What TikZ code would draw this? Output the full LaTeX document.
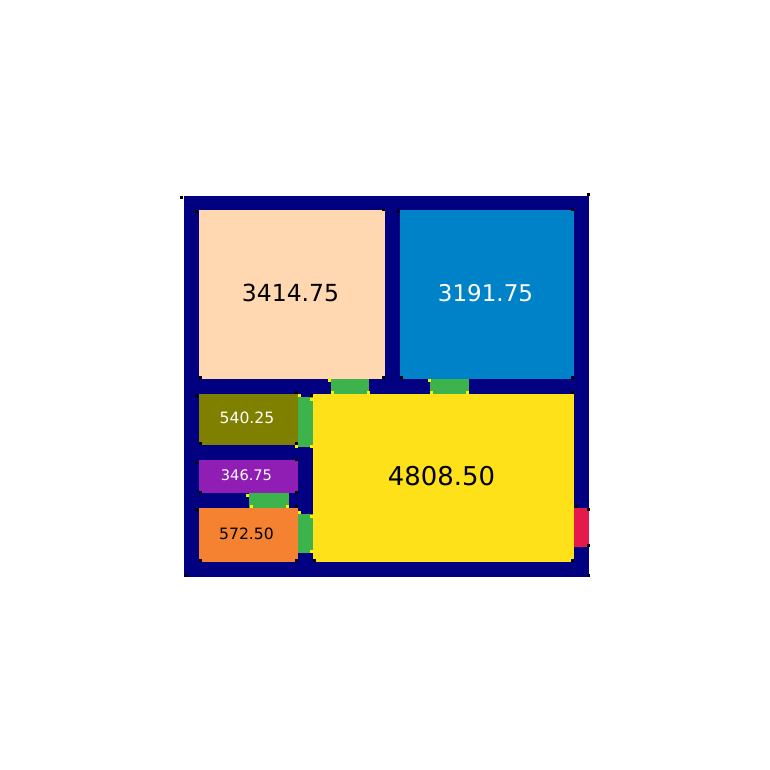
\documentclass[tikz,border=0pt]{standalone}
\usepackage{fontspec}
\setmainfont{DejaVu Sans}
\definecolor{wallnavy}{HTML}{000080}
\definecolor{roompeach}{HTML}{FFD8B1}
\definecolor{roomblue}{HTML}{0082C8}
\definecolor{roomolive}{HTML}{808000}
\definecolor{roompurple}{HTML}{911EB4}
\definecolor{roomorange}{HTML}{F58231}
\definecolor{roomyellow}{HTML}{FFE119}
\definecolor{doorgreen}{HTML}{3CB44B}
\definecolor{doorred}{HTML}{E6194B}
\begin{document}
\begin{tikzpicture}[x=1pt,y=-1pt,
    % Define the style for the labels
    label big/.style={inner sep=0pt, font=\fontsize{23.5}{26}\selectfont},
    label small/.style={inner sep=0pt, font=\fontsize{15.6}{18}\selectfont}
]
\useasboundingbox (0,0) rectangle (769,770);

% Outer wall
\fill[wallnavy] (183.6,195.6) rectangle (589.4,577.2);

% Rooms
\fill[roompeach] (198.6,210) rectangle (385,378.7);
\fill[roomblue] (400.2,210) rectangle (574.4,378.7);
\fill[roomolive] (198.6,394) rectangle (298,444.7);
\fill[roompurple] (198.6,460) rectangle (298,493.3);
\fill[roomorange] (198.6,508) rectangle (298,561.7);
\fill[roomyellow] (312.7,394) rectangle (574.4,561.7);

% Doors between the rooms
\foreach \xa/\ya/\xb/\yb in {331.3/378.7/369.3/394, 430.3/378.7/469/394,
    298/397.3/312.7/447.3, 249.3/493.3/288.7/508, 298/514.3/312.7/553.3}
    \fill[doorgreen] (\xa,\ya) rectangle (\xb,\yb);
\fill[doorred] (574.4,508) rectangle (589.4,547.3);

% Small black marks on the corners
\foreach \x/\y in {181.7/197, 588.3/194, 196.7/211.7, 383.3/209, 200/377.3, 383.3/377.3,
    398.3/211.7, 572.7/209, 401.7/377.3, 572.7/377.3, 572.7/392.3,
    196.7/395.7, 296.7/392.5, 311/395.7, 200/443.3, 296.7/443.3,
    196.7/462, 296.7/459, 200/492, 296.7/492, 296.7/506.7, 196.7/509.3,
    200/560.3, 296.7/560.3, 314/560.3, 185/575.7,
    576/506.3, 588.3/509.3, 588.3/545.7, 572.7/560.5, 588.3/575.7}
    \fill[black] (\x-1.5,\y-1.5) rectangle ++(3,3);

% Small yellow marks on the doors
\foreach \x/\y in {329.3/380, 332.6/392.7, 368.3/392.7, 429/380, 431.7/392.7, 467.3/392.7,
    299.3/395.7, 311/399, 296.7/446.7, 311/446.7,
    247.7/495, 251/506.7, 287/506.7, 299.3/512.7, 311/516, 311/551.7}
    \fill[yellow] (\x-1.5,\y-1.5) rectangle ++(3,3);

% Labels
\node[label big] (peach label) at (290.5,293) {3414.75};
\node[label big, white, font=\fontsize{23}{26}\selectfont] (blue label) at (485.5,293) {3191.75};
\node[label big, font=\fontsize{25.9}{28}\selectfont] (yellow label) at (441.5,475.7) {4808.50};
\node[label small, white] (olive label) at (247,418) {540.25};
\node[label small, white, font=\fontsize{14.6}{17}\selectfont] (purple label) at (246.5,475) {346.75};
\node[label small] (orange label) at (246.5,534) {572.50};

\end{tikzpicture}
\end{document}
